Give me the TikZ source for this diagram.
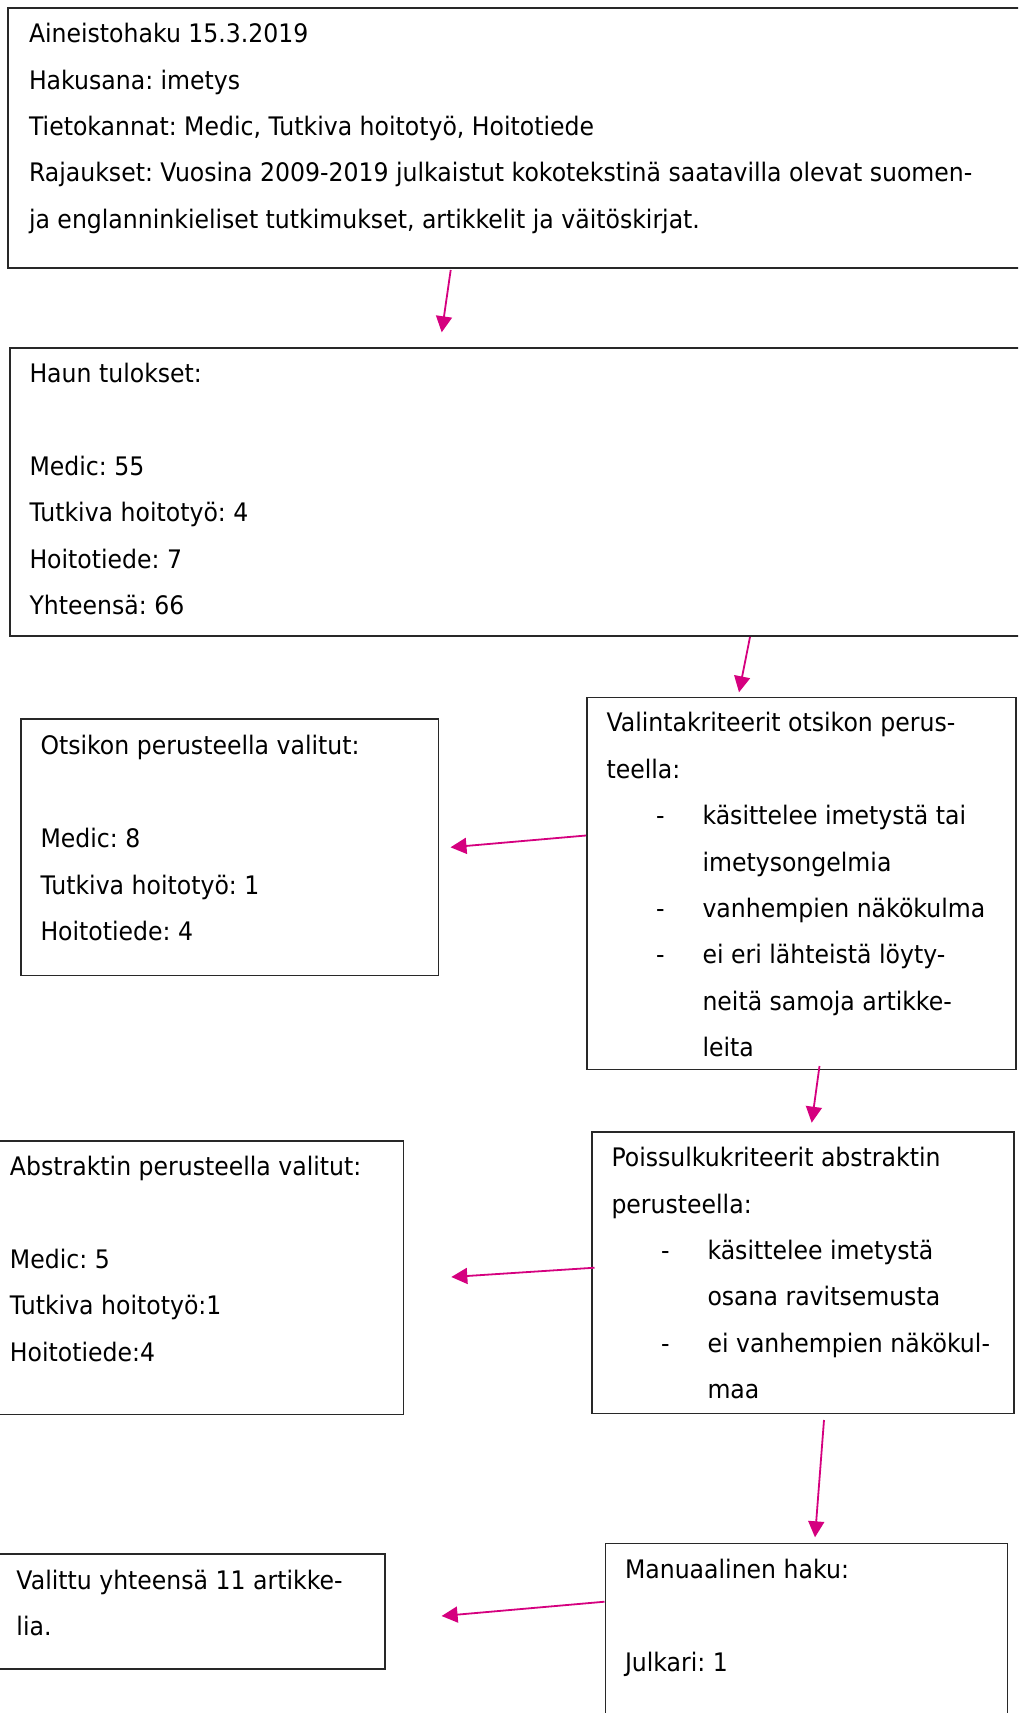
\documentclass[tikz,border=0pt]{standalone}
\usepackage{fontspec}
\setmainfont{DejaVu Sans}[FakeStretch=0.925]
\usetikzlibrary{arrows.meta}
\definecolor{arrowpink}{RGB}{213,0,127}
\definecolor{boxline}{RGB}{40,40,40}
\frenchspacing
\tikzset{
  boxframe/.style={draw=boxline, line width=0.8pt},
  txt/.style={anchor=base west, inner sep=0pt, outer sep=0pt, font=\fontsize{12.75pt}{15pt}\selectfont\frenchspacing},
  arr/.style={draw=arrowpink, line width=0.9pt, -{Triangle[length=8pt,width=8pt]}}
}
\begin{document}
\begin{tikzpicture}[x=0.5pt,y=-0.5pt]
\useasboundingbox (0,0) rectangle (1018,1713);
\clip (0,0) rectangle (1018,1713);
\fill[white] (0,0) rectangle (1018,1713);
% boxes
\draw[boxframe] (8,8) rectangle (1040,268);
\draw[boxframe] (10,348) rectangle (1040,636);
\draw[boxframe] (587,697.5) rectangle (1016,1069.5);
\draw[boxframe] (21,719) rectangle (438.5,975.5);
\draw[boxframe] (592,1132) rectangle (1014,1413.5);
\draw[boxframe] (-10,1141) rectangle (403.5,1414.5);
\draw[boxframe] (605.5,1543.5) rectangle (1007.5,1730);
\draw[boxframe] (-10,1554) rectangle (385,1669);
% box 1 text
\node[txt] (t11) at (29,42.7) {Aineistohaku 15.3.2019};
\node[txt] (t12) at (29,89.1) {Hakusana: imetys};
\node[txt] (t13) at (29,135.5) {Tietokannat: Medic, Tutkiva hoitotyö, Hoitotiede};
\node[txt] (t14) at (29,181.9) {Rajaukset: Vuosina 2009-2019 julkaistut kokotekstinä saatavilla olevat suomen-};
\node[txt] (t15) at (29,228.3) {ja englanninkieliset tutkimukset, artikkelit ja väitöskirjat.};
% box 2 text
\node[txt] (t21) at (29.5,382.4) {Haun tulokset:};
\node[txt] (t22) at (29.5,475.2) {Medic: 55};
\node[txt] (t23) at (29.5,521.6) {Tutkiva hoitotyö: 4};
\node[txt] (t24) at (29.5,568) {Hoitotiede: 7};
\node[txt] (t25) at (29.5,614.4) {Yhteensä: 66};
% box 3 text
\node[txt] (t31) at (606.5,731.9) {Valintakriteerit otsikon perus-};
\node[txt] (t32) at (606.5,778.3) {teella:};
\node[txt] (d31) at (656,824.7) {-};
\node[txt] (t33) at (702.5,824.7) {käsittelee imetystä tai};
\node[txt] (t34) at (702.5,871.1) {imetysongelmia};
\node[txt] (d32) at (656,917.5) {-};
\node[txt] (t35) at (702.5,917.5) {vanhempien näkökulma};
\node[txt] (d33) at (656,963.9) {-};
\node[txt] (t36) at (702.5,963.9) {ei eri lähteistä löyty-};
\node[txt] (t37) at (702.5,1010.3) {neitä samoja artikke-};
\node[txt] (t38) at (702.5,1056.7) {leita};
% box 4 text
\node[txt] (t41) at (40.5,754.8) {Otsikon perusteella valitut:};
\node[txt] (t42) at (40.5,847.6) {Medic: 8};
\node[txt] (t43) at (40.5,894) {Tutkiva hoitotyö: 1};
\node[txt] (t44) at (40.5,940.4) {Hoitotiede: 4};
% box 5 text
\node[txt] (t51) at (611.5,1166.6) {Poissulkukriteerit abstraktin};
\node[txt] (t52) at (611.5,1213) {perusteella:};
\node[txt] (d51) at (661,1259.4) {-};
\node[txt] (t53) at (707.5,1259.4) {käsittelee imetystä};
\node[txt] (t54) at (707.5,1305.8) {osana ravitsemusta};
\node[txt] (d52) at (661,1352.2) {-};
\node[txt] (t55) at (707.5,1352.2) {ei vanhempien näkökul-};
\node[txt] (t56) at (707.5,1398.6) {maa};
% box 6 text
\node[txt] (t61) at (10,1175.4) {Abstraktin perusteella valitut:};
\node[txt] (t62) at (10,1268.2) {Medic: 5};
\node[txt] (t63) at (10,1314.6) {Tutkiva hoitotyö:1};
\node[txt] (t64) at (10,1361) {Hoitotiede:4};
% box 7 text
\node[txt] (t71) at (625,1578.4) {Manuaalinen haku:};
\node[txt] (t72) at (625,1671.2) {Julkari: 1};
% box 8 text
\node[txt] (t81) at (16.5,1589.3) {Valittu yhteensä 11 artikke-};
\node[txt] (t82) at (16.5,1635) {lia.};
% arrows
\coordinate (a1s) at (450.7,270);   \coordinate (a1e) at (441.7,332.3);
\coordinate (a2s) at (750,637);     \coordinate (a2e) at (739,692.3);
\coordinate (a3s) at (586,835.5);   \coordinate (a3e) at (450.5,847.3);
\coordinate (a4s) at (819.5,1066);  \coordinate (a4e) at (811.7,1122.7);
\coordinate (a5s) at (594.5,1267.7);\coordinate (a5e) at (451.3,1277);
\coordinate (a6s) at (824,1420);    \coordinate (a6e) at (815,1537.3);
\coordinate (a7s) at (604.5,1601.7);\coordinate (a7e) at (441.6,1616);
\draw[arr] (a1s) -- (a1e);
\draw[arr] (a2s) -- (a2e);
\draw[arr] (a3s) -- (a3e);
\draw[arr] (a4s) -- (a4e);
\draw[arr] (a5s) -- (a5e);
\draw[arr] (a6s) -- (a6e);
\draw[arr] (a7s) -- (a7e);
\end{tikzpicture}
\end{document}
